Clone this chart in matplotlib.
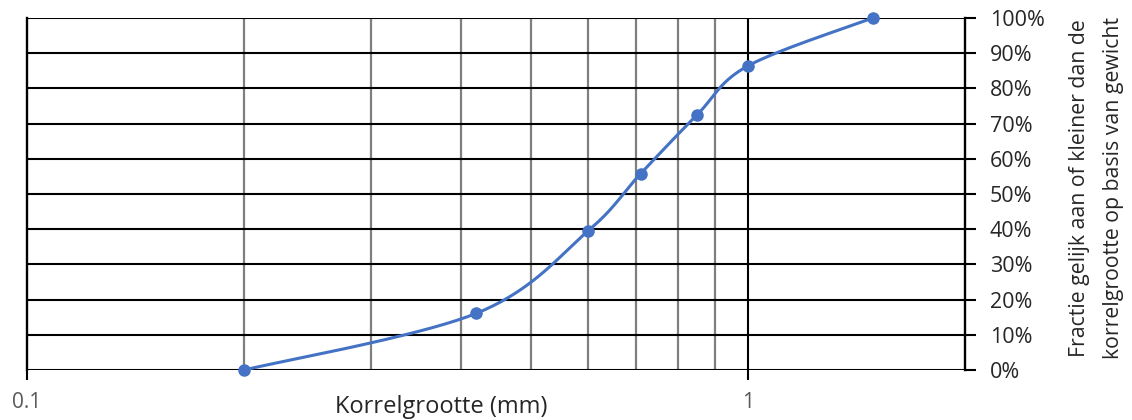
import numpy as np
import matplotlib
matplotlib.use('Agg')
import matplotlib.pyplot as plt
from matplotlib.ticker import FixedLocator, NullFormatter, PercentFormatter

plt.rcParams['font.family'] = ['Open Sans', 'DejaVu Sans']

# Sieve analysis: grain size (mm) vs cumulative fraction passing (%)
grain_size = [0.2, 0.42, 0.6, 0.71, 0.85, 1.0, 1.49]
passing = [0.0, 16.1, 39.5, 55.8, 72.5, 86.4, 100.0]
x_ticks = [0.1, 1]
x_tick_labels = ['0.1', '1']
y_ticks = [0, 10, 20, 30, 40, 50, 60, 70, 80, 90, 100]

x_min, x_max = 0.1, 2.0
line_color = '#4472C4'

fig = plt.figure(figsize=(11.32, 4.2), dpi=100)
ax = fig.add_axes([27 / 1132, 1 - 370 / 420, 938 / 1132, 352 / 420])

ax.set_xscale('log')
ax.set_xlim(x_min, x_max)
ax.set_ylim(0, 100)

# grid: grey minor verticals, black major vertical and horizontals
for v in [0.2, 0.3, 0.4, 0.5, 0.6, 0.7, 0.8, 0.9]:
    ax.axvline(v, color='#7f7f7f', lw=1.6, zorder=1)
ax.axvline(1.0, color='black', lw=1.5, zorder=1)
for h in y_ticks:
    ax.axhline(h, color='black', lw=1.5, zorder=1)

# smoothed curve (cubic Bezier through the points, in screen-like space)
W, H = 938.0, 352.0
u = (np.log10(grain_size) - np.log10(x_min)) / (np.log10(x_max) - np.log10(x_min)) * W
v = np.array(passing) / 100 * H
P = np.column_stack([u, v])
n = len(P)
curve = []
t = np.linspace(0, 1, 40)[:, None]
for i in range(n - 1):
    p0 = P[max(i - 1, 0)]
    p1 = P[i]
    p2 = P[i + 1]
    p3 = P[min(i + 2, n - 1)]
    c1 = p1 + (p2 - p0) / 6
    c2 = p2 - (p3 - p1) / 6
    seg = ((1 - t) ** 3) * p1 + 3 * ((1 - t) ** 2) * t * c1 + 3 * (1 - t) * t ** 2 * c2 + t ** 3 * p2
    curve.append(seg)
curve = np.vstack(curve)
cx = 10 ** (curve[:, 0] / W * (np.log10(x_max) - np.log10(x_min)) + np.log10(x_min))
cy = curve[:, 1] / H * 100

ax.plot(cx, cy, color=line_color, lw=2.2, zorder=3, solid_capstyle='round')
ax.plot(grain_size, passing, 'o', color=line_color, ms=8, zorder=4, clip_on=False)

# x axis ticks
ax.xaxis.set_major_locator(FixedLocator(x_ticks))
ax.set_xticklabels(x_tick_labels)
ax.xaxis.set_minor_formatter(NullFormatter())
ax.tick_params(axis='x', which='minor', length=0)
ax.tick_params(axis='x', which='major', length=7, width=1.5, direction='out',
               labelsize=15, labelcolor='#595959', pad=9)

# y axis on the right
ax.yaxis.tick_right()
ax.set_yticks(y_ticks)
ax.yaxis.set_major_formatter(PercentFormatter(decimals=0))
ax.tick_params(axis='y', which='major', length=8, width=1.5, direction='out',
               labelsize=15.5, labelcolor='#262626', pad=10)

for side in ['top', 'bottom']:
    ax.spines[side].set_visible(False)
for side in ['left', 'right']:
    ax.spines[side].set_linewidth(1.7)
    ax.spines[side].set_color('black')

fig.text(1080 / 1132, 1 - 188 / 420, 'Fractie gelijk aan of kleiner dan de',
         rotation=90, ha='center', va='center', fontsize=15.3, color='#262626')
fig.text(1113 / 1132, 1 - 188 / 420, 'korrelgrootte op basis van gewicht',
         rotation=90, ha='center', va='center', fontsize=15.3, color='#262626')
fig.text(441 / 1132, 1 / 420, 'Korrelgrootte (mm)', ha='center', va='bottom',
         fontsize=17, color='#262626')

fig.savefig('out.png', dpi=100)
